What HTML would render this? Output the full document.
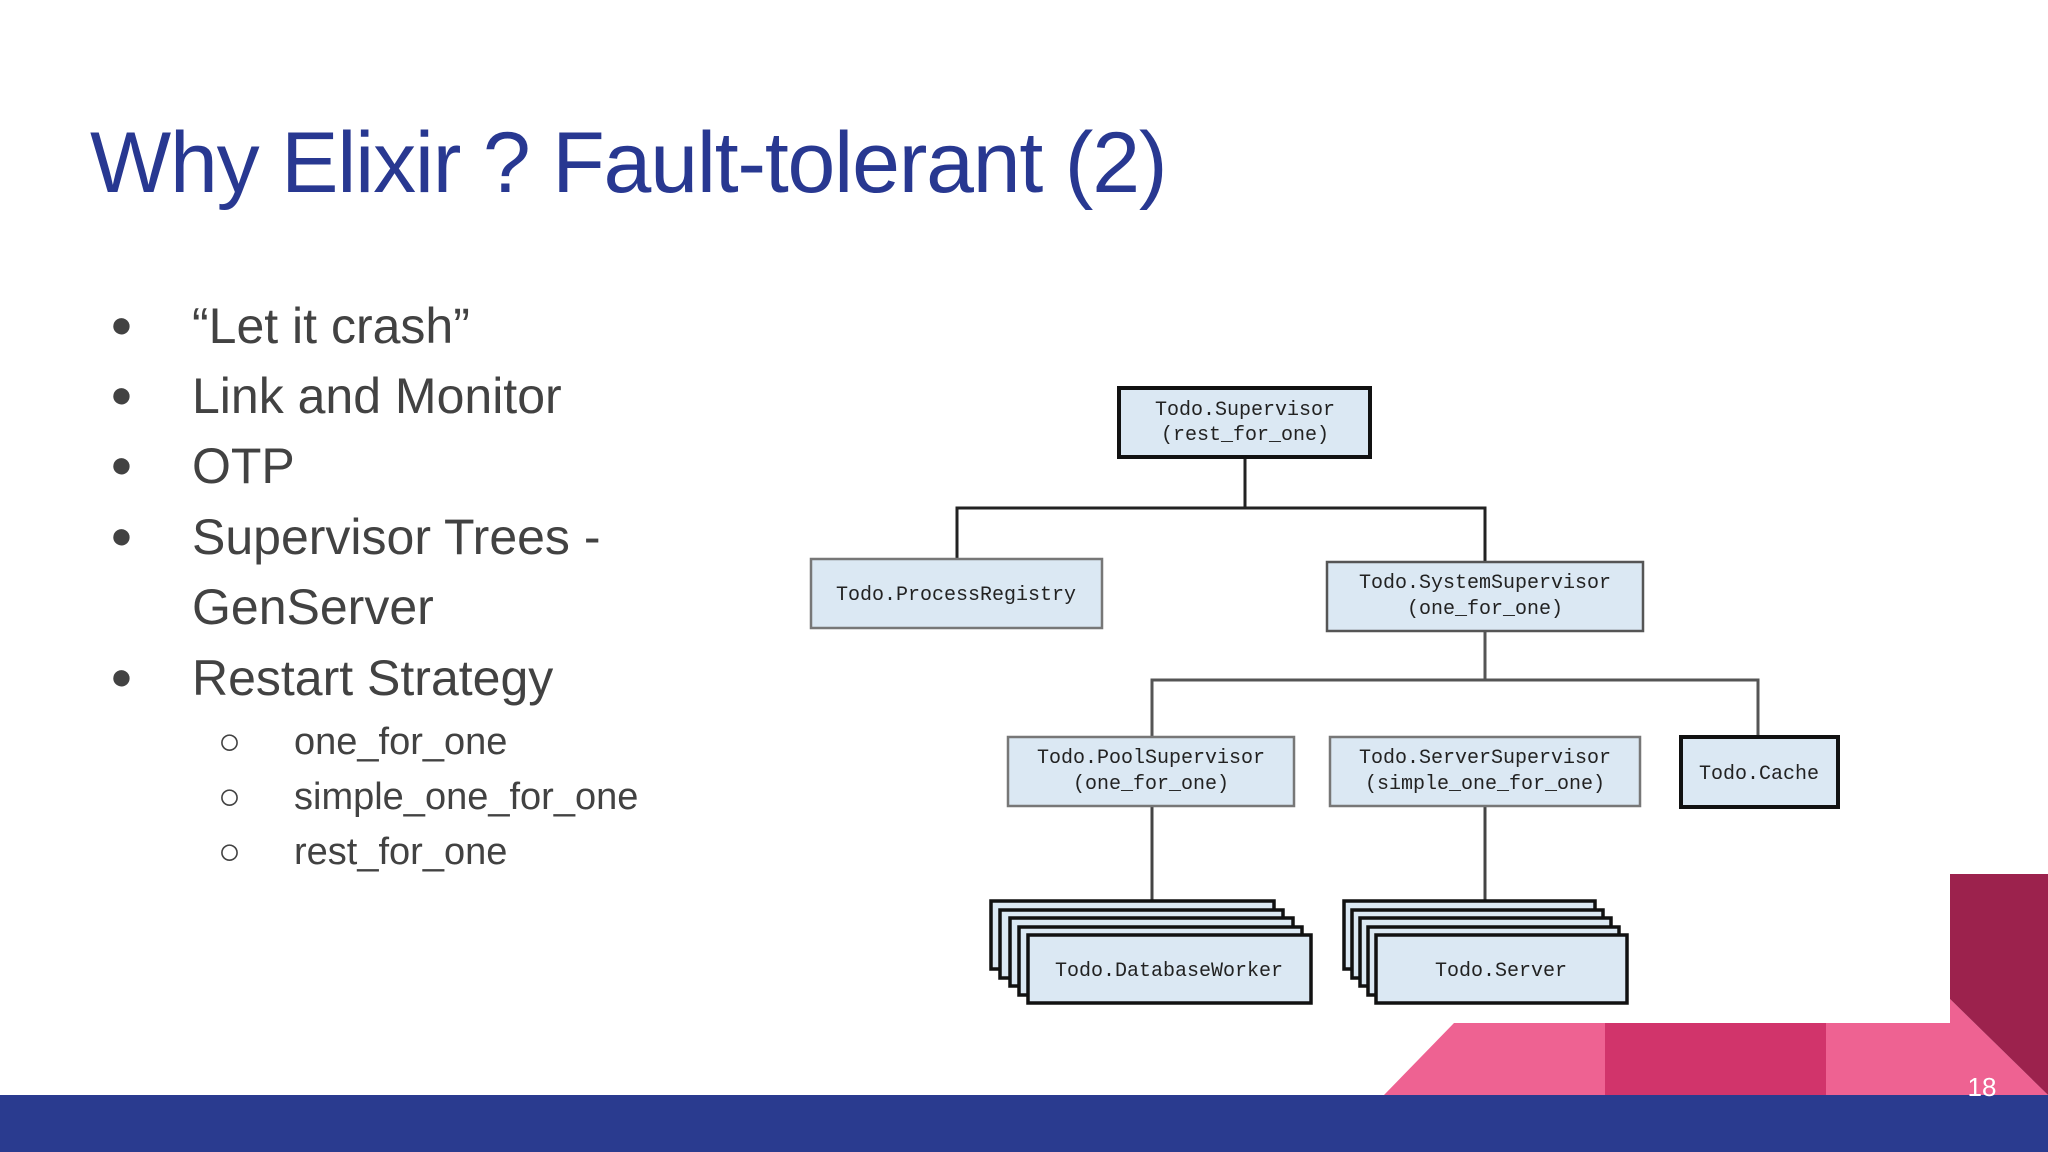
<!DOCTYPE html>
<html><head><meta charset="utf-8"><style>
body{margin:0;width:2048px;height:1152px;position:relative;overflow:hidden;background:#fff;font-family:"Liberation Sans",sans-serif}
.t{position:absolute;left:90px;top:114px;font-size:86px;color:#283891;white-space:nowrap;letter-spacing:-1.2px}
.b{position:absolute;font-size:50px;color:#424242;white-space:nowrap}
.d{position:absolute;font-size:38px;color:#424242}
.s{position:absolute;font-size:38px;color:#424242;white-space:nowrap}
</style></head><body>
<div class="t">Why Elixir ? Fault-tolerant (2)</div>
<div class="d" style="left:110px;top:304px">●</div><div class="b" style="left:192px;top:297px">“Let it crash”</div>
<div class="d" style="left:110px;top:374px">●</div><div class="b" style="left:192px;top:367px">Link and Monitor</div>
<div class="d" style="left:110px;top:444px">●</div><div class="b" style="left:192px;top:437px">OTP</div>
<div class="d" style="left:110px;top:515px">●</div><div class="b" style="left:192px;top:508px">Supervisor Trees -</div>
<div class="b" style="left:192px;top:578px">GenServer</div>
<div class="d" style="left:110px;top:656px">●</div><div class="b" style="left:192px;top:649px">Restart Strategy</div>
<div class="s" style="left:218px;top:721px">○</div><div class="s" style="left:294px;top:721px">one_for_one</div>
<div class="s" style="left:218px;top:776px">○</div><div class="s" style="left:294px;top:776px">simple_one_for_one</div>
<div class="s" style="left:218px;top:831px">○</div><div class="s" style="left:294px;top:831px">rest_for_one</div>
<svg width="2048" height="1152" style="position:absolute;left:0;top:0" font-family="Liberation Mono, monospace" font-size="20" fill="#222">
<g stroke="#222" stroke-width="3" fill="none">
<path d="M1245 457V508M957 559V508H1485V562"/>
<path d="M1485 631V680M1152 737V680H1758V737" stroke="#555"/>
<path d="M1152 806V901M1485 806V901" stroke="#444"/>
</g>
<g fill="#dbe8f3">
<rect x="1119" y="388" width="251" height="69" stroke="#111" stroke-width="4"/>
<rect x="811" y="559" width="291" height="69" stroke="#777" stroke-width="2.5"/>
<rect x="1327" y="562" width="316" height="69" stroke="#555" stroke-width="2.5"/>
<rect x="1008" y="737" width="286" height="69" stroke="#777" stroke-width="2.5"/>
<rect x="1330" y="737" width="310" height="69" stroke="#777" stroke-width="2.5"/>
<rect x="1681" y="737" width="157" height="70" stroke="#111" stroke-width="4"/>
<g stroke="#111" stroke-width="3.5">
<rect x="991" y="901" width="283" height="68"/><rect x="1000" y="910" width="283" height="68"/><rect x="1010" y="918" width="283" height="68"/><rect x="1019" y="927" width="283" height="68"/><rect x="1028" y="935" width="283" height="68"/>
<rect x="1344" y="901" width="251" height="68"/><rect x="1352" y="910" width="251" height="68"/><rect x="1360" y="918" width="251" height="68"/><rect x="1368" y="927" width="251" height="68"/><rect x="1376" y="935" width="251" height="68"/>
</g></g>
<g text-anchor="middle">
<text x="1245" y="415">Todo.Supervisor</text><text x="1245" y="440">(rest_for_one)</text>
<text x="956" y="600">Todo.ProcessRegistry</text>
<text x="1485" y="588">Todo.SystemSupervisor</text><text x="1485" y="614">(one_for_one)</text>
<text x="1151" y="763">Todo.PoolSupervisor</text><text x="1151" y="789">(one_for_one)</text>
<text x="1485" y="763">Todo.ServerSupervisor</text><text x="1485" y="789">(simple_one_for_one)</text>
<text x="1759" y="779">Todo.Cache</text>
<text x="1169" y="976">Todo.DatabaseWorker</text>
<text x="1501" y="976">Todo.Server</text>
</g>
<polygon points="1454,1023 1950,1023 1950,999 2048,1095 1384,1095" fill="#ee6292"/>
<rect x="1605" y="1023" width="221" height="72" fill="#d1346b"/>
<polygon points="1950,874 2048,874 2048,1095 1950,999" fill="#9c224d"/>
<rect x="0" y="1095" width="2048" height="57" fill="#2a3b8f"/>
<text x="1982" y="1096" font-family="Liberation Sans, sans-serif" font-size="26" fill="#fff" text-anchor="middle">18</text>
</svg>
</body></html>
